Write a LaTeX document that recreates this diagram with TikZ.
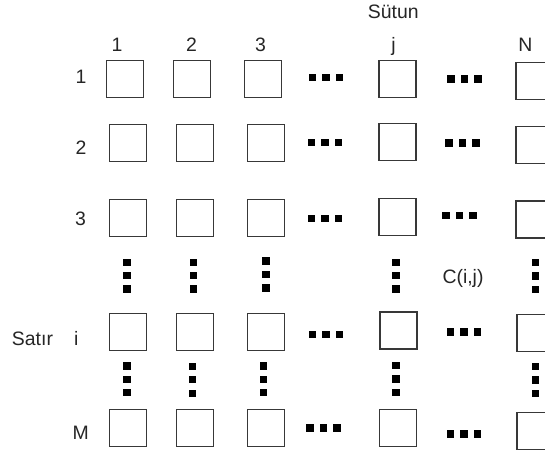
\documentclass[tikz,border=0pt]{standalone}
\usepackage{fontspec}
\setmainfont{Liberation Sans}
\begin{document}
\begin{tikzpicture}[x=1bp,y=-1bp,
  cell/.style={draw=black!78,line width=1.2bp,minimum size=37bp,inner sep=0pt,fill=white},
  lbl/.style={anchor=base,inner sep=0pt,text=black!85,font=\fontsize{19.5}{22}\selectfont},
  sq/.style={fill=black,inner sep=0pt,minimum size=7.3bp},
  hgap/.pic={\node[sq] (-a) at (-13.5,0) {};\node[sq] (-b) at (0,0) {};\node[sq] (-c) at (13.5,0) {};},
  vgap/.pic={\node[sq] (-a) at (0,-13.4) {};\node[sq] (-b) at (0,0) {};\node[sq] (-c) at (0,13.4) {};}]
\useasboundingbox (0,0) rectangle (545,454);
\clip (0,0) rectangle (545,454);
\fill[white] (0,0) rectangle (545,454);
% headings
\node[lbl] (sutun) at (393.3,18.3) {Sütun};
\node[lbl] (c1) at (117,51.7) {1};
\node[lbl] (c2) at (191.5,51.7) {2};
\node[lbl] (c3) at (260.5,51.7) {3};
\node[lbl] (cj) at (393.5,51.7) {j};
\node[lbl] (cN) at (525.5,51.7) {N};
\node[lbl] (r1) at (81,83.3) {1};
\node[lbl] (r2) at (81,155) {2};
\node[lbl] (r3) at (80.5,226) {3};
\node[lbl] (satir) at (32.5,345) {Satır};
\node[lbl] (ri) at (76.2,345) {i};
\node[lbl] (rM) at (80.7,439.3) {M};
\node[lbl,anchor=center] (cij) at (463,278) {C(i,j)};
% row 1
\node[cell] (b11) at (125,78.7) {};
\node[cell] (b12) at (192,78.7) {};
\node[cell] (b13) at (263,78.7) {};
\node[cell] (b1j) at (397.5,78.7) {};
\node[cell] (b1N) at (534.5,81) {};
\pic (h11) at (326,77.3) {hgap};
\pic (h12) at (464.5,79) {hgap};
% row 2
\node[cell] (b21) at (128,143) {};
\node[cell] (b22) at (195,143) {};
\node[cell] (b23) at (266,143) {};
\node[cell] (b2j) at (397.5,141.7) {};
\node[cell] (b2N) at (534.5,144.7) {};
\pic (h21) at (325,142.7) {hgap};
\pic (h22) at (462.5,143) {hgap};
% row 3
\node[cell] (b31) at (128,218) {};
\node[cell] (b32) at (195,218) {};
\node[cell] (b33) at (266,218) {};
\node[cell] (b3j) at (397.5,217) {};
\node[cell] (b3N) at (534.5,219.5) {};
\pic (h31) at (325,218.3) {hgap};
\pic (h32) at (459.5,215.5) {hgap};
% row i
\node[cell] (bi1) at (128,332.3) {};
\node[cell] (bi2) at (195,332.3) {};
\node[cell] (bi3) at (266,332.3) {};
\node[cell] (bij) at (398.5,330.5) {};
\node[cell] (biN) at (535.5,333) {};
\pic (hi1) at (326,334.3) {hgap};
\pic (hi2) at (464,332) {hgap};
% row M
\node[cell] (bM1) at (128,428) {};
\node[cell] (bM2) at (195,428) {};
\node[cell] (bM3) at (266,428) {};
\node[cell] (bMj) at (398.3,427.7) {};
\node[cell] (bMN) at (535.5,430.7) {};
\pic (hM1) at (323.5,428) {hgap};
\pic (hM2) at (464,434) {hgap};
% vertical gaps
\pic (v11) at (127,275.7) {vgap};
\pic (v12) at (193.7,275.7) {vgap};
\pic (v13) at (266,274.5) {vgap};
\pic (v1j) at (396,275.7) {vgap};
\pic (v1N) at (535.5,276) {vgap};
\pic (v21) at (127,379.3) {vgap};
\pic (v22) at (192.5,379.8) {vgap};
\pic (v23) at (263.6,379.3) {vgap};
\pic (v2j) at (396,379) {vgap};
\pic (v2N) at (535.5,380) {vgap};
\end{tikzpicture}
\end{document}
